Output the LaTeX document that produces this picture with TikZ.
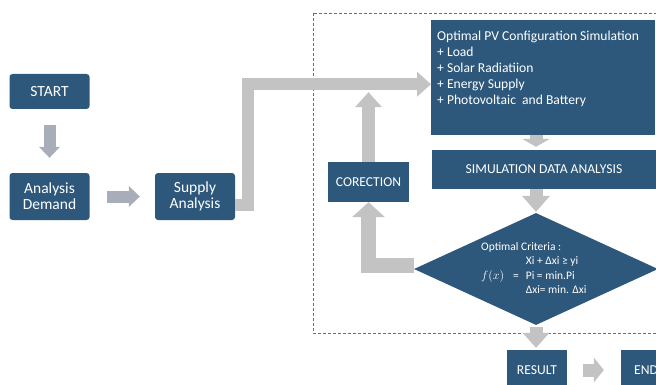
\documentclass[tikz,border=0pt]{standalone}
\usepackage{fontspec}
\setmainfont{Carlito}
\usetikzlibrary{arrows.meta, shapes.geometric}
\definecolor{boxblue}{RGB}{46,88,123}
\definecolor{flowgray}{RGB}{195,195,195}
\definecolor{stepgray}{RGB}{167,173,185}
\definecolor{frameblue}{RGB}{68,110,210}

\begin{document}
\begin{tikzpicture}[
x=1pt, y=-1pt,
block/.style={
rectangle,
fill=boxblue,
text=white,
align=center,
inner sep=2pt,
font=\fontsize{13.6}{15}\selectfont
},
leftblock/.style={
block,
rounded corners=3pt,
minimum width=80pt,
minimum height=47pt,
font=\fontsize{15.5}{16}\selectfont
},
decision/.style={
diamond,
fill=boxblue,
inner sep=0pt,
minimum width=244pt,
minimum height=112pt
},
steparrow/.style={
-{Triangle[width=21pt,length=11pt,line width=0pt]},
line width=12pt,
draw=stepgray
},
flowarrow/.style={
-{Triangle[width=27pt,length=15pt,line width=0pt]},
line width=13pt,
draw=flowgray,
line join=miter
},
frame/.style={
draw=frameblue,
line width=0.8pt,
dash pattern=on 3pt off 2pt
}
]

\useasboundingbox (0,0) rectangle (656,385);

\draw[frame] (313,13) rectangle (700,333);

\node[leftblock, minimum height=35pt] (start) at (49.5,91.5) {START};
\node[leftblock] (demand) at (49.5,196.5) {Analysis\\Demand};
\node[leftblock] (supply) at (195,196.5) {Supply\\Analysis};

\node[block, anchor=north west, align=left, inner xsep=6pt, inner ysep=11pt,
      font=\fontsize{13.6}{16}\selectfont] (pv) at (431,20)
  {\parbox[t][93pt][t]{212pt}{Optimal PV Configuration Simulation\\
   + Load\\
   + Solar Radiatiion\\
   + Energy Supply\\
   + Photovoltaic\ \ and Battery}};
\node[block, minimum width=224pt, minimum height=39pt] (sim) at (544,169.5) {SIMULATION DATA ANALYSIS};
\node[block, minimum width=81pt, minimum height=40pt] (corr) at (368.5,182) {CORECTION};
\node[decision] (crit) at (536,269) {};
\node[anchor=north west, inner sep=0pt, text=white, font=\fontsize{11.5}{14.5}\selectfont] (crittext)
  at ([shift={(-55,-29)}]crit.center)
  {\begin{tabular}{@{}l@{\hspace{9pt}}l@{\hspace{7pt}}l@{}}
   \multicolumn{3}{@{}l}{Optimal Criteria :}\\
   & & Xi + Δxi ≥ yi\\
   $f(x)$ & = & Pi = min.Pi\\
   & & Δxi= min. Δxi
   \end{tabular}};
\node[block, minimum width=60pt, minimum height=40pt] (result) at (537,370) {RESULT};
\node[block, minimum width=50pt, minimum height=40pt] (finish) at (646,370) {END};

\draw[steparrow, shorten <=16pt, shorten >=15pt] (start) -- (demand);
\draw[steparrow, shorten <=17pt, shorten >=15pt] (demand) -- (supply);

\draw[flowarrow, line width=12pt, -{Triangle[width=25pt,length=14pt,line width=0pt]}]
  ([yshift=-8.5pt]supply.east) -- ++(13,0) |- ([yshift=-6.5pt]pv.west);
\draw[flowarrow, shorten >=14.5pt] (corr.north) -- (corr.north |- pv.west);
\draw[flowarrow, line width=15pt, -{Triangle[width=33pt,length=15pt,line width=0pt]}]
  ([yshift=4pt]crit.west) -| (corr.south);

\draw[flowarrow, -{Triangle[width=28pt,length=8pt,line width=0pt]}, shorten >=3pt]
  (pv.south -| crit.north) -- (sim.north -| crit.north);
\draw[flowarrow, -{Triangle[width=28pt,length=16pt,line width=0pt]}, shorten >=1pt]
  (sim.south -| crit.north) -- (crit.north);
\draw[flowarrow, shorten <=2pt, shorten >=2pt] (crit.south) -- (crit.south |- result.north);
\draw[flowarrow, -{Triangle[width=25pt,length=10pt,line width=0pt]}, shorten <=16pt, shorten >=17pt]
  (result) -- (finish);

\end{tikzpicture}
\end{document}
